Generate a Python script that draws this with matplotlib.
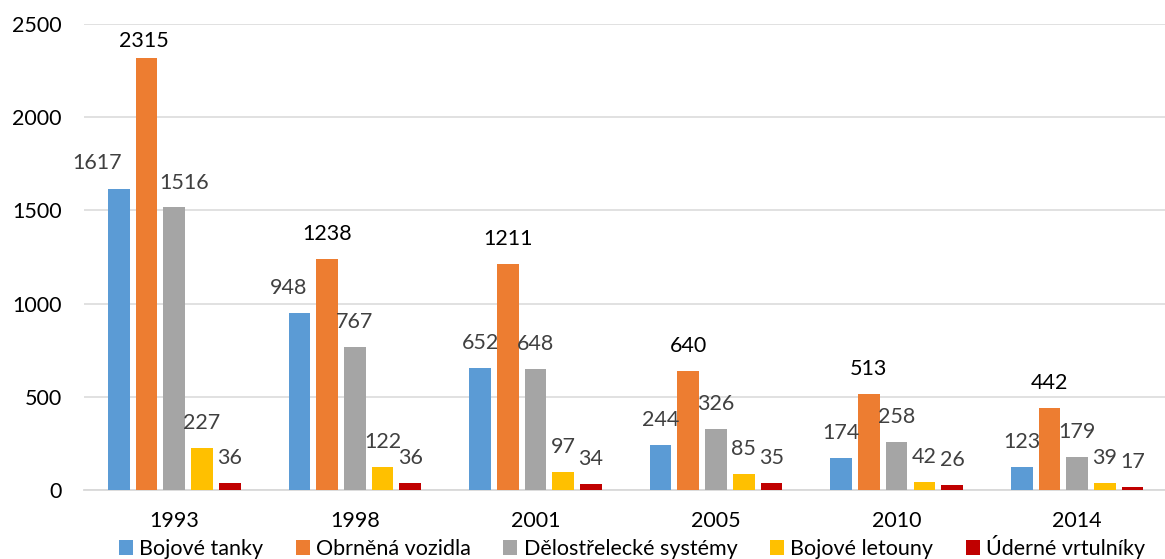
import matplotlib

matplotlib.use("Agg")
import matplotlib.pyplot as plt
from matplotlib.patches import Patch
import numpy as np

years = ["1993", "1998", "2001", "2005", "2010", "2014"]
series = [
    "Bojové tanky",
    "Obrněná vozidla",
    "Dělostřelecké systémy",
    "Bojové letouny",
    "Úderné vrtulníky",
]
tanks = [1617, 948, 652, 244, 174, 123]
armoured = [2315, 1238, 1211, 640, 513, 442]
artillery = [1516, 767, 648, 326, 258, 179]
aircraft = [227, 122, 97, 85, 42, 39]
helicopters = [36, 36, 34, 35, 26, 17]

COLORS = ["#5B9BD5", "#ED7D31", "#A5A5A5", "#FFC000", "#C00000"]
LABEL_COLORS = ["#404040", "#000000", "#404040", "#404040", "#404040"]
GRID = "#D9D9D9"
FONT = "Lato"
FS = 15.5

# label nudges in pixels (dx, dy of text centre from bar top), default (0, 25)
NUDGE = {(0, 0): (-22, 26), (1, 0): (-3, 17), (2, 0): (10, 24), (0, 1): (-11, 25)}

plt.rcParams["font.family"] = [FONT, "DejaVu Sans"]

fig = plt.figure(figsize=(11.65, 5.59), dpi=100)
ax = fig.add_axes([84 / 1165, 69 / 559, 1083.5 / 1165, 466 / 559])

values = [tanks, armoured, artillery, aircraft, helicopters]
x = np.arange(len(years))
pitch = 0.1535
width = 0.12
for k, (vals, col) in enumerate(zip(values, COLORS)):
    xs = x + (k - 2) * pitch
    ax.bar(xs, vals, width=width, color=col, zorder=3)
    for i, (xi, v) in enumerate(zip(xs, vals)):
        dx, dy = NUDGE.get((k, i), (0, 25))
        ax.annotate(
            f"{v}",
            (xi, v),
            xytext=(dx * 0.72, dy * 0.72),
            textcoords="offset points",
            ha="center",
            va="center",
            fontsize=FS,
            color=LABEL_COLORS[k],
            zorder=5,
        )

ax.set_xlim(-0.5, 5.5)
ax.set_ylim(0, 2500)
ax.set_yticks(range(0, 2501, 500))
ax.set_xticks(x)
ax.set_xticklabels(years)
ax.tick_params(axis="both", length=0, labelsize=FS, colors="#000000")
ax.tick_params(axis="y", pad=16)
ax.tick_params(axis="x", pad=15)

for s in ["top", "right", "left"]:
    ax.spines[s].set_visible(False)
ax.spines["bottom"].set_color(GRID)
ax.spines["bottom"].set_linewidth(1.3)
ax.yaxis.grid(True, color=GRID, lw=1.1, zorder=0)
ax.set_axisbelow(True)

handles = [Patch(facecolor=c, label=s) for c, s in zip(COLORS, series)]
fig.legend(
    handles=handles,
    loc="center",
    bbox_to_anchor=(632 / 1165, 12 / 559),
    ncol=5,
    frameon=False,
    fontsize=FS,
    handlelength=0.65,
    handleheight=0.65,
    handletextpad=0.3,
    columnspacing=1.5,
    borderpad=0,
    borderaxespad=0,
)

fig.savefig("out.png", dpi=100, facecolor="white")
